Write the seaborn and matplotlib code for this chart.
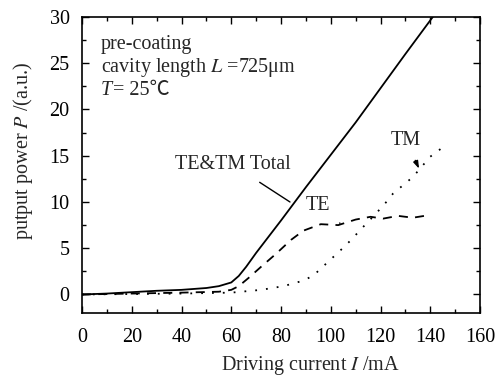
import matplotlib
matplotlib.use("Agg")
import matplotlib.pyplot as plt
import seaborn as sns
from matplotlib.ticker import MultipleLocator

# Driving current (mA) and output power (a.u.)
total_current = [0, 10, 20, 30, 40, 50, 55, 60, 63, 66, 70, 80, 90, 100, 110, 120, 130, 141, 146]
total_power = [0, 0.1, 0.25, 0.4, 0.5, 0.7, 0.9, 1.3, 2.0, 3.0, 4.5, 8.0, 11.6, 15.1, 18.6, 22.3, 26.0, 30.0, 31.8]

te_current = [0, 20, 40, 55, 60, 63, 67, 72, 78, 84, 89, 96, 103, 110, 116, 121, 127, 133, 140]
te_power = [0, 0.1, 0.2, 0.3, 0.5, 0.9, 1.8, 3.0, 4.4, 5.9, 6.9, 7.6, 7.5, 8.1, 8.4, 8.2, 8.5, 8.3, 8.6]

tm_current = [0, 20, 40, 60, 72, 81, 89, 93, 98, 104, 108, 113, 118, 123, 125, 133, 140, 147]
tm_power = [0, 0.05, 0.1, 0.2, 0.5, 0.9, 1.5, 2.05, 3.3, 4.8, 5.85, 7.3, 8.7, 10.2, 10.9, 12.7, 14.9, 16.3]

sns.set_style("ticks")
plt.rcParams['font.family'] = ['Liberation Serif', 'Noto Sans CJK SC', 'DejaVu Sans']
plt.rcParams['mathtext.fontset'] = 'stix'
FS = 14.5

fig = plt.figure(figsize=(4.98, 3.76), dpi=100)
ax = fig.add_axes([0.1647, 0.1676, 0.7992, 0.7872])

sns.lineplot(x=total_current, y=total_power, ax=ax, color='black', lw=1.3)
sns.lineplot(x=te_current, y=te_power, ax=ax, color='black', lw=1.3, linestyle=(0, (5, 4)))
sns.lineplot(x=tm_current, y=tm_power, ax=ax, color='black', lw=1.3, linestyle=(0, (1, 5)))

ax.set_xlim(0, 160)
ax.set_ylim(-2, 30)
ax.xaxis.set_major_locator(MultipleLocator(20))
ax.xaxis.set_minor_locator(MultipleLocator(10))
ax.yaxis.set_major_locator(MultipleLocator(5))
ax.yaxis.set_minor_locator(MultipleLocator(2.5))
ax.tick_params(which='both', direction='in', top=True, right=True, labelsize=FS, colors='black')
ax.tick_params(which='major', length=5, width=1)
ax.tick_params(which='minor', length=3, width=1)
for s in ax.spines.values():
    s.set_color('black')
    s.set_linewidth(1.2)
ax.tick_params(axis='x', pad=11)
ax.tick_params(axis='y', pad=9)

ax.set_xlabel('Driving current $I$ /mA', fontsize=FS)
ax.xaxis.set_label_coords(0.573, -0.138)
ax.set_ylabel('putput power $P$ /(a.u.)', fontsize=FS)
ax.yaxis.set_label_coords(-0.118, 0.547)

ax.text(7.6, 27.0, 'pre-coating', fontsize=FS, va='center')
ax.text(7.6, 24.5, 'cavity length $L$ =725μm', fontsize=FS, va='center')
# "T" in italics, the rest as plain text so the ℃ sign can fall back to a CJK font
ax.text(7.6, 22.0, 'T', fontsize=FS, va='center', style='italic')
ax.text(12.3, 22.0, '= 25℃', fontsize=FS, va='center')

ax.annotate('TE&TM Total', xy=(83.6, 10.0), xytext=(60.7, 14.0), fontsize=FS,
            ha='center', va='center',
            arrowprops=dict(arrowstyle='-', color='black', lw=1, shrinkA=6, shrinkB=0))
ax.annotate('TE', xy=(103.7, 7.7), xytext=(94.7, 9.6), fontsize=FS,
            ha='center', va='center',
            arrowprops=dict(arrowstyle='-', color='black', lw=1, shrinkA=6, shrinkB=0))
ax.annotate('TM', xy=(135.5, 13.6), xytext=(130.2, 16.7), fontsize=FS,
            ha='center', va='center',
            arrowprops=dict(arrowstyle='-|>,head_length=0.3,head_width=0.1', color='black', lw=1, shrinkA=6, shrinkB=0))

fig.savefig('out.png', dpi=100)
